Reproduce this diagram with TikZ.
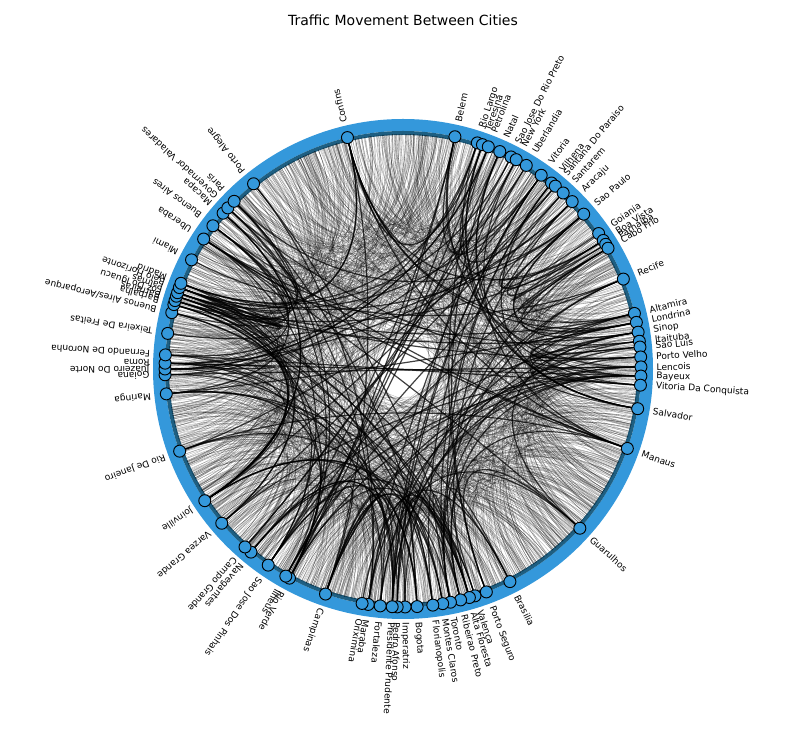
\documentclass[tikz,border=0pt]{standalone}
\usepackage{fontspec}
\setmainfont{DejaVu Sans}
\usetikzlibrary{calc}
\definecolor{ringblue}{RGB}{52,152,219}
\definecolor{ringdark}{RGB}{30,95,130}
\tikzset{
  city/.style={circle,draw=black,fill=ringblue,line width=0.7pt,minimum size=9pt,inner sep=0pt},
  citylabel/.style={anchor=west,inner sep=1pt,font=\fontsize{6.8}{8}\selectfont},
  chord/.style={black,opacity=0.3,line width=0.25pt},
  heavychord/.style={black,opacity=0.75,line width=0.9pt}
}
\begin{document}
\begin{tikzpicture}[x=0.75pt,y=0.75pt]
\useasboundingbox (0,0) rectangle (801,736);
\node (title) at (403,716) {\fontsize{10.5}{12}\selectfont Traffic Movement Between Cities};
\begin{scope}[shift={(403,367)}]
\coordinate (o) at (0,0);
% ring
\draw[ringblue,line width=9pt] (o) circle (244);
\draw[ringdark,line width=3pt] (o) circle (236);
% chord ends
\foreach \a [count=\i] in {103.5,77.4,71.8,70.5,69.0,66.0,63.0,61.6,58.8,54.5,51.4,50.2,47.7,44.7,40.6,34.7,32.7,31.6,30.5,22.2,13.5,11.3,8.9,6.7,5.3,2.9,0.5,-1.7,-3.9,-9.6,-19.5,-42,-63.3,-69.5,-72.4,-73.8,-76,-78.5,-80.4,-82.8,-86.6,-89.5,-91.4,-92.6,-95.5,-98.4,-99.9,-109,-118.5,-119.5,-124.5,-129.7,-131.6,-139.6,-146.4,-159.8,186,181.4,180,178.6,176.6,171.4,166.3,164.3,163.3,162.2,161.3,160,158.9,152.7,146.9,143,139.1,137.4,135.2,128.9}
  \coordinate (c\i) at (\a:235);
% thin chords spread along the ring
\pgfmathsetseed{11}
\foreach \k in {1,...,1400}{
  \pgfmathsetmacro{\p}{random(0,3599)/10}
  \pgfmathsetmacro{\q}{\p+random(200,1600)/10}
  \draw[chord] (\p:235) .. controls (\p:120) and (\q:120) .. (\q:235);
}
% heavy chords between cities
\foreach \k in {1,...,170}{
  \pgfmathrandominteger{\p}{1}{76}
  \pgfmathrandominteger{\q}{1}{76}
  \draw[heavychord] (c\p) .. controls ($(c\p)!0.6!(o)$) and ($(c\q)!0.6!(o)$) .. (c\q);
}
% cities
\foreach \a/\t [count=\i] in {103.5/Confins,77.4/Belem,71.8/Rio Largo,70.5/Teresina,69.0/Petrolina,66.0/Natal,63.0/Sao Jose Do Rio Preto,61.6/New York,58.8/Uberlandia,54.5/Vitoria,51.4/Vilhena,50.2/Santana Do Paraiso,47.7/Santarem,44.7/Aracaju,40.6/Sao Paulo,34.7/Goiania,32.7/Boa Vista,31.6/Parnaiba,30.5/Cabo Frio,22.2/Recife,13.5/Altamira,11.3/Londrina,8.9/Sinop,6.7/Itaituba,5.3/Sao Luis,2.9/Porto Velho,0.5/Lencois,-1.7/Bayeux,-3.9/Vitoria Da Conquista,-9.6/Salvador,-19.5/Manaus,-42/Guarulhos,-63.3/Brasilia,-69.5/Porto Seguro,-72.4/Valença,-73.8/Alta Floresta,-76/Ribeirao Preto,-78.5/Toronto,-80.4/Montes Claros,-82.8/Florianopolis,-86.6/Bogota,-89.5/Imperatriz,-91.4/Pedro Afonso,-92.6/Presidente Prudente,-95.5/Fortaleza,-98.4/Maraba,-99.9/Oriximina,-109/Campinas,-118.5/Rio Verde,-119.5/Ilheus,-124.5/Sao Jose Dos Pinhais,-129.7/Navegantes,-131.6/Campo Grande,-139.6/Varzea Grande,-146.4/Joinville,-159.8/Rio De Janeiro,186/Maringa,181.4/Goiana,180/Juazeiro Do Norte,178.6/Roma,176.6/Fernando De Noronha,171.4/Teixeira De Freitas,166.3/{Buenos Aires/Aeroparque},164.3/Barbalha,163.3/Barreiras,162.2/Foz Do Iguacu,161.3/Palmas,160/Belo Horizonte,158.9/Madrid,152.7/Miami,146.9/Uberaba,143/Buenos Aires,139.1/Macapa,137.4/Governador Valadares,135.2/Paris,128.9/Porto Alegre}{
  \node[city] (n\i) at (\a:238) {};
  \node[citylabel,rotate=\a] (l\i) at (\a:252) {\t};
}
\end{scope}
\end{tikzpicture}
\end{document}
